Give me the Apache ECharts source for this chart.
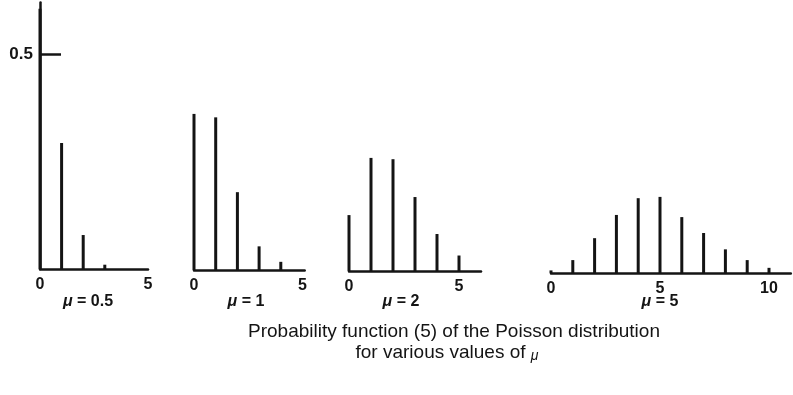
<!DOCTYPE html>
<html>
<head>
<meta charset="utf-8">
<script src="https://cdn.jsdelivr.net/npm/echarts@6/dist/echarts.min.js"></script>
<style>
html, body { margin: 0; padding: 0; background: #fff; }
#chart { width: 793px; height: 395px; }
</style>
</head>
<body>
<div id="chart"></div>
<script>
// bar heights, index = k
const mu05 = [0.605, 0.293, 0.079, 0.01]
const mu1 = [0.363, 0.355, 0.181, 0.055, 0.019]
const mu2 = [0.13, 0.263, 0.26, 0.172, 0.086, 0.036]
const mu5 = [0.006, 0.03, 0.081, 0.135, 0.174, 0.177, 0.13, 0.093, 0.055, 0.03, 0.012]

const panelLabels = ['0.5', '1', '2', '5']
const xTickLabels = [[0, 5], [0, 5], [0, 5], [0, 5, 10]]
const xMax = [5, 5.1, 6, 11]
const yTickLabels = [0.5]

const ink = '#141414'
const font = 'Liberation Sans, Arial, sans-serif'

// layout of each small panel (pixels)
const yMax = 0.62
const pxPerUnit = 430
const gridH = yMax * pxPerUnit
const baselines = [269, 270, 271, 273]
const lefts = [40, 194, 349, 551]
const pxPerK = [21.6, 21.7, 22, 21.8]
const labelX = [88, 246, 401, 660]

const allData = [mu05, mu1, mu2, mu5]

const chart = echarts.init(document.getElementById('chart'))

const grids = allData.map((d, i) => ({
    left: lefts[i],
    top: baselines[i] - gridH,
    width: xMax[i] * pxPerK[i],
    height: gridH
}))

const xAxes = allData.map((d, i) => ({
    type: 'value',
    gridIndex: i,
    min: 0,
    max: xMax[i],
    axisLine: { show: true, onZero: false, lineStyle: { color: ink, width: 2.5 } },
    axisTick: { show: false },
    splitLine: { show: false },
    axisLabel: {
        customValues: xTickLabels[i],
        color: ink,
        fontFamily: font,
        fontWeight: 'bold',
        fontSize: 16,
        margin: 8
    }
}))

const yAxes = allData.map((d, i) => ({
    type: 'value',
    gridIndex: i,
    min: 0,
    max: yMax,
    show: i === 0,
    axisLine: { show: i === 0, lineStyle: { color: ink, width: 2.5 } },
    axisTick: {
        show: i === 0,
        customValues: yTickLabels,
        inside: true,
        length: 21,
        lineStyle: { color: ink, width: 2.5 }
    },
    splitLine: { show: false },
    axisLabel: {
        show: i === 0,
        customValues: yTickLabels,
        color: ink,
        fontFamily: font,
        fontWeight: 'bold',
        fontSize: 17,
        margin: 7
    }
}))

const series = allData.map((d, i) => ({
    type: 'bar',
    xAxisIndex: i,
    yAxisIndex: i,
    barWidth: 3,
    clip: false,
    itemStyle: { color: ink },
    data: d.map((v, k) => [k, v])
}))

const texts = panelLabels.map((p, i) => ({
    type: 'text',
    x: labelX[i],
    y: 302,
    style: {
        text: '{m|μ} = ' + p,
        fill: ink,
        font: 'bold 16px ' + font,
        align: 'center',
        verticalAlign: 'middle',
        rich: {
            m: { fontStyle: 'italic', fontWeight: 'bold', fontSize: 16, fontFamily: font, fill: ink }
        }
    }
}))

const captionStyle = {
    fill: ink,
    fontFamily: font,
    fontSize: 19,
    letterSpacing: 1.5,
    align: 'center',
    verticalAlign: 'middle'
}

const caption = [
    {
        type: 'text',
        x: 454,
        y: 332,
        style: Object.assign({ text: 'Probability function (5) of the Poisson distribution' }, captionStyle)
    },
    {
        type: 'text',
        x: 447,
        y: 353,
        style: Object.assign({
            text: 'for various values of {m|μ}',
            rich: {
                m: { fontStyle: 'italic', fontSize: 14, fontFamily: font, fill: ink, padding: [7, 0, 0, 0] }
            }
        }, captionStyle)
    }
]

chart.setOption({
    animation: false,
    backgroundColor: '#fff',
    grid: grids,
    xAxis: xAxes,
    yAxis: yAxes,
    series: series,
    graphic: texts.concat(caption)
})
</script>
</body>
</html>
